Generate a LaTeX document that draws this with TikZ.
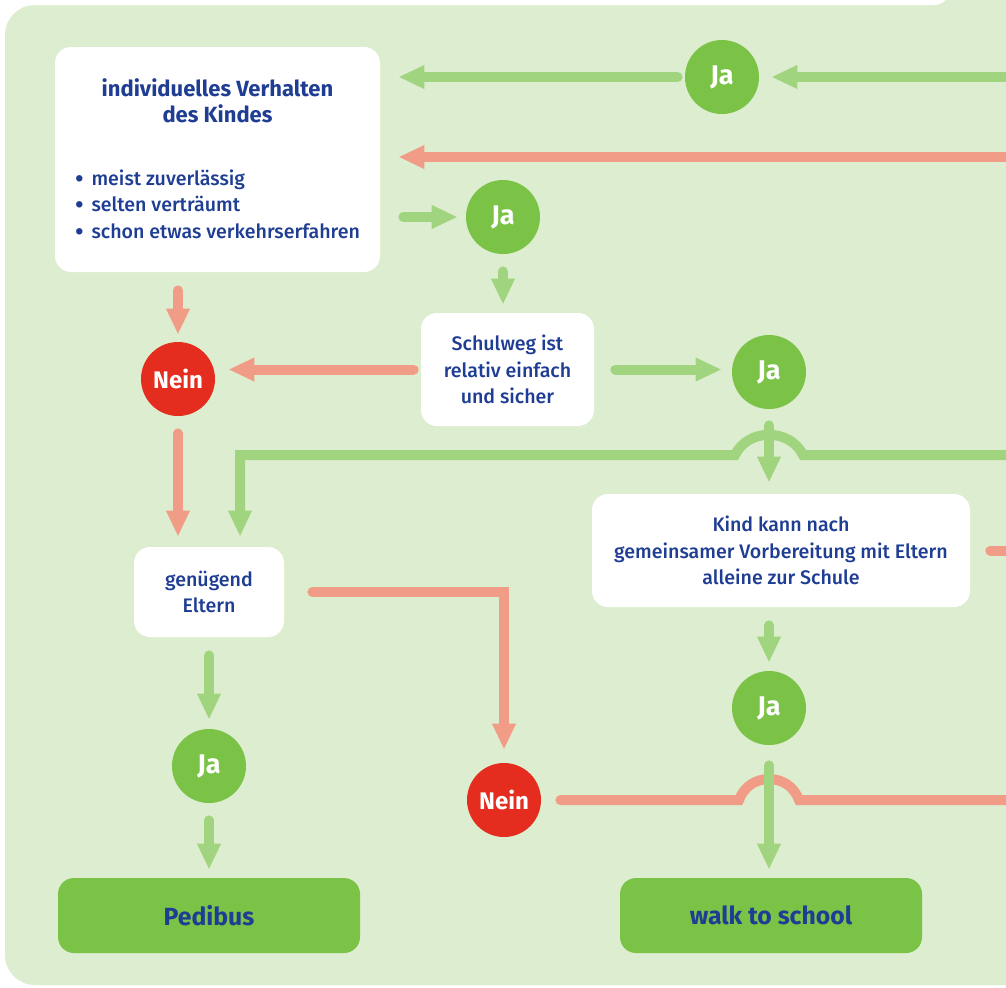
\documentclass[tikz,border=0pt]{standalone}
\usepackage{fontspec}
\setmainfont{Fira Sans}[UprightFont={* Medium}, BoldFont={* Bold}]
\usetikzlibrary{arrows.meta, positioning, calc}

\definecolor{panelgreen}{HTML}{DDEDCF}
\definecolor{flowgreen}{HTML}{A0D47E}
\definecolor{jagreen}{HTML}{7AC346}
\definecolor{neinred}{HTML}{E42D1F}
\definecolor{flowsalmon}{HTML}{F19C86}
\definecolor{textblue}{HTML}{1F3E93}

\tikzset{
  box/.style={fill=white, rounded corners=8pt, text=textblue, align=center,
    inner sep=0pt, font=\fontsize{9.8}{13.3}\selectfont},
  answer/.style={circle, minimum size=37pt, inner sep=0pt, text=white,
    font=\bfseries\fontsize{12}{14}\selectfont},
  ja/.style={answer, fill=jagreen, font=\bfseries\fontsize{13.5}{14}\selectfont},
  nein/.style={answer, fill=neinred},
  goal/.style={fill=jagreen, rounded corners=8pt, minimum width=151pt,
    minimum height=37.5pt, text=textblue, font=\bfseries\fontsize{12.4}{14}\selectfont},
  yesline/.style={draw=flowgreen, line width=5pt, line cap=round},
  noline/.style={draw=flowsalmon, line width=5pt, line cap=round},
  yesflow/.style={yesline, -{Triangle[width=11pt,length=13pt]}},
  noflow/.style={noline, -{Triangle[width=11pt,length=13pt]}},
}
\newcommand{\dotitem}{\raisebox{-0.9pt}{\scalebox{1.3}{\textbullet}}\hspace{4pt}}

\begin{document}
\begin{tikzpicture}[x=0.5pt, y=-0.5pt]
  \useasboundingbox (0,0) rectangle (1006,987);
  % background panel
  \fill[white] (0,0) rectangle (1006,987);
  \fill[panelgreen, rounded corners=15pt] (5,5) rectangle (1060,985);
  \fill[panelgreen] (900,-10) rectangle (1010,20);
  \fill[white, rounded corners=8pt] (-10,-40) rectangle (950,5);

  % questions
  \node[box, minimum width=162.5pt, minimum height=112.5pt] (verhalten) at (217.5,159.5)
    {\begin{minipage}{142.5pt}\centering
     {\bfseries\fontsize{11}{13}\selectfont individuelles Verhalten\\des Kindes\par}
     \vspace{18pt}\raggedright
     \dotitem meist zuverlässig\\
     \dotitem selten verträumt\\
     \dotitem schon etwas verkehrserfahren
     \end{minipage}};
  \node[box, minimum width=86.5pt, minimum height=56.5pt] (schulweg) at (507.5,369.5)
    {Schulweg ist\\relativ einfach\\und sicher};
  \node[box, minimum width=189pt, minimum height=56.5pt] (kind) at (781,550.5)
    {Kind kann nach\\gemeinsamer Vorbereitung mit Eltern\\alleine zur Schule};
  \node[box, minimum width=75pt, minimum height=45pt] (eltern) at (209,592)
    {genügend\\Eltern};

  % answers
  \node[ja] (jaTop) at (722,77) {Ja};
  \node[ja] (jaVerh) at (503,217) {Ja};
  \node[nein] (neinVerh) at (178,379) {Nein};
  \node[ja] (jaWeg) at (769,372) {Ja};
  \node[ja] (jaKind) at (769,708) {Ja};
  \node[ja] (jaEltern) at (209,766) {Ja};
  \node[nein] (neinEltern) at (504,800) {Nein};

  % results
  \node[goal] (pedibus) at (209,915.5) {Pedibus};
  \node[goal] (walk) at (771,915.5) {walk to school};

  % loose ends at the edge
  \coordinate (inJa) at (1010,77);
  \coordinate (inNein) at (1010,157);
  \coordinate (inLoop) at (1010,455);
  \coordinate (outKind) at (1010,547);
  \coordinate (outNein) at (1010,803);
  \coordinate (elternIn) at ($(eltern.north)+(31,0)$);

  % connectors
  \draw[yesflow, shorten >=6pt] (inJa) -- (jaTop.east);
  \draw[yesflow, shorten <=3.5pt, shorten >=9pt] (jaTop.west) -- (verhalten.east |- jaTop);
  \draw[noflow, shorten >=9pt] (inNein) -- (verhalten.east |- inNein);
  \draw[yesflow, shorten <=11.5pt, shorten >=4pt] (verhalten.east |- jaVerh) -- (jaVerh.west);
  \draw[yesflow, shorten <=8.5pt, shorten >=4pt] (jaVerh.south) -- (jaVerh.south |- schulweg.north);
  \draw[noflow, shorten <=9pt, shorten >=3.5pt] (verhalten.south -| neinVerh) -- (neinVerh.north);
  \draw[noflow, shorten <=3.5pt, shorten >=6.5pt] (schulweg.west) -- (neinVerh.east |- schulweg.west);
  \draw[yesflow, shorten <=10.5pt, shorten >=5pt] (schulweg.east) -- (jaWeg.west |- schulweg.east);
  \draw[yesflow, shorten <=8pt, shorten >=5.5pt] (jaWeg.south) -- (jaWeg.south |- kind.north);
  \draw[yesflow, shorten >=5pt] (inLoop) -- ($(jaWeg |- inLoop)+(34,0)$)
    .. controls +(-13,-27) and +(13,-27) .. ($(jaWeg |- inLoop)+(-34,0)$)
    -- (elternIn |- inLoop) -- (elternIn);
  \draw[noflow, shorten <=8.5pt, shorten >=5pt] (neinVerh.south) -- (neinVerh.south |- eltern.north);
  \draw[noflow, shorten <=14pt, shorten >=6.5pt] (eltern.east) -- (neinEltern |- eltern.east) -- (neinEltern.north);
  \draw[noline, shorten <=10pt] (kind.east) -- (outKind |- kind.east);
  \draw[yesflow, shorten <=9pt, shorten >=4pt] (kind.south -| jaKind) -- (jaKind.north);
  \draw[noline, shorten <=9.5pt] (neinEltern.east) -- ($(jaKind |- neinEltern)+(-30,0)$)
    .. controls +(10,-28) and +(-10,-28) .. ($(jaKind |- neinEltern)+(30,0)$)
    -- (outNein |- neinEltern);
  \draw[yesflow, shorten <=10pt, shorten >=4pt] (jaKind.south) -- (jaKind.south |- walk.north);
  \draw[yesflow, shorten <=9pt, shorten >=4.5pt] (eltern.south) -- (jaEltern.north);
  \draw[yesflow, shorten <=8.5pt, shorten >=4pt] (jaEltern.south) -- (pedibus.north);
\end{tikzpicture}
\end{document}
